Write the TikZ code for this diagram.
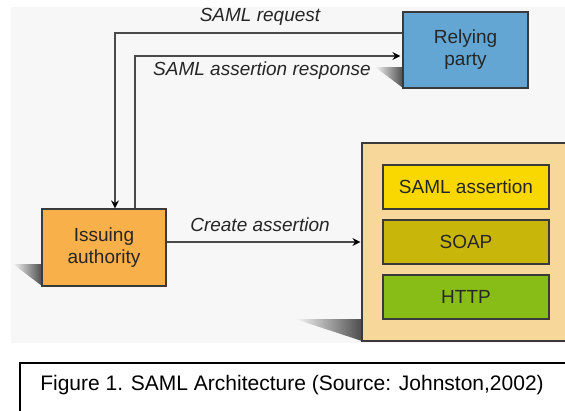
\documentclass[tikz,border=0pt]{standalone}
\usepackage{fontspec}
\setmainfont{Liberation Sans}
\usetikzlibrary{arrows.meta}
\definecolor{panelbg}{HTML}{F7F7F7}
\definecolor{rpblue}{HTML}{64A6D3}
\definecolor{iaorange}{HTML}{F7B04A}
\definecolor{stacktan}{HTML}{F7D79A}
\definecolor{samlyellow}{HTML}{F8D800}
\definecolor{soapolive}{HTML}{C8B70A}
\definecolor{httpgreen}{HTML}{88BD18}
\definecolor{edgegray}{HTML}{3A3A3A}
\definecolor{linegray}{HTML}{4A4A4A}
\tikzset{
  box/.style={draw=edgegray, line width=1.2pt, inner sep=0pt, align=center,
    font=\fontsize{19}{22}\selectfont, text=black!85},
  layer/.style={box, minimum width=166pt, minimum height=44pt},
  lbl/.style={font=\fontsize{19}{22}\selectfont\itshape, text=black!85, inner sep=0pt},
  conn/.style={draw=linegray, line width=1.3pt},
  arr/.style={conn, -{Stealth[length=8pt,width=8pt,color=black]}},
  shadowtri/.style={left color=panelbg, right color=black!70},
}
\begin{document}
\begin{tikzpicture}[x=1pt,y=-1pt]
\useasboundingbox (0,0) rectangle (565,410);
% background panel
\fill[panelbg] (11,7) rectangle (565,343);
% shadows
\shade[shadowtri] (375,67) -- (403,67) -- (403,88) -- cycle;
\shade[shadowtri] (13,264) -- (42,264) -- (42,286) -- cycle;
\shade[shadowtri] (295,319) -- (362,319) -- (362,341) -- cycle;
% nodes
\node[box, fill=rpblue, minimum width=125pt, minimum height=76pt] (rp) at (465.5,50) {Relying\\party};
\node[box, fill=iaorange, minimum width=124pt, minimum height=77pt] (ia) at (104,247.5) {Issuing\\authority};
\node[box, fill=stacktan, minimum width=220pt, minimum height=198pt] (stack) at (472,242) {};
\node[layer, fill=samlyellow] (sa) at (466,187) {SAML assertion};
\node[layer, fill=soapolive] (soap) at (466,242) {SOAP};
\node[layer, fill=httpgreen] (http) at (466,297) {HTTP};
% coordinates for connector levels
\coordinate (reqy) at (0,33);
\coordinate (respy) at (0,56);
% connectors
\draw[arr] (rp.west |- reqy) -| ([xshift=11pt]ia.north);
\draw[arr] ([xshift=31pt]ia.north) |- ([xshift=-2pt]rp.west |- respy);
\draw[arr] (ia.east |- soap.west) -- ([xshift=-1pt]stack.west |- soap.west);
% labels
\node[lbl] (lreq) at (260,17) {SAML request};
\node[lbl] (lresp) at (262,71) {SAML assertion response};
\node[lbl] (lcreate) at (260,225) {Create assertion};
% caption
\draw[black, line width=2pt] (575,363) -- (20,363) -- (20,420);
\node[font=\fontsize{21}{25}\selectfont, inner sep=0pt] (cap) at (292,385) {Figure 1. SAML Architecture (Source: Johnston,2002)};
\end{tikzpicture}
\end{document}
